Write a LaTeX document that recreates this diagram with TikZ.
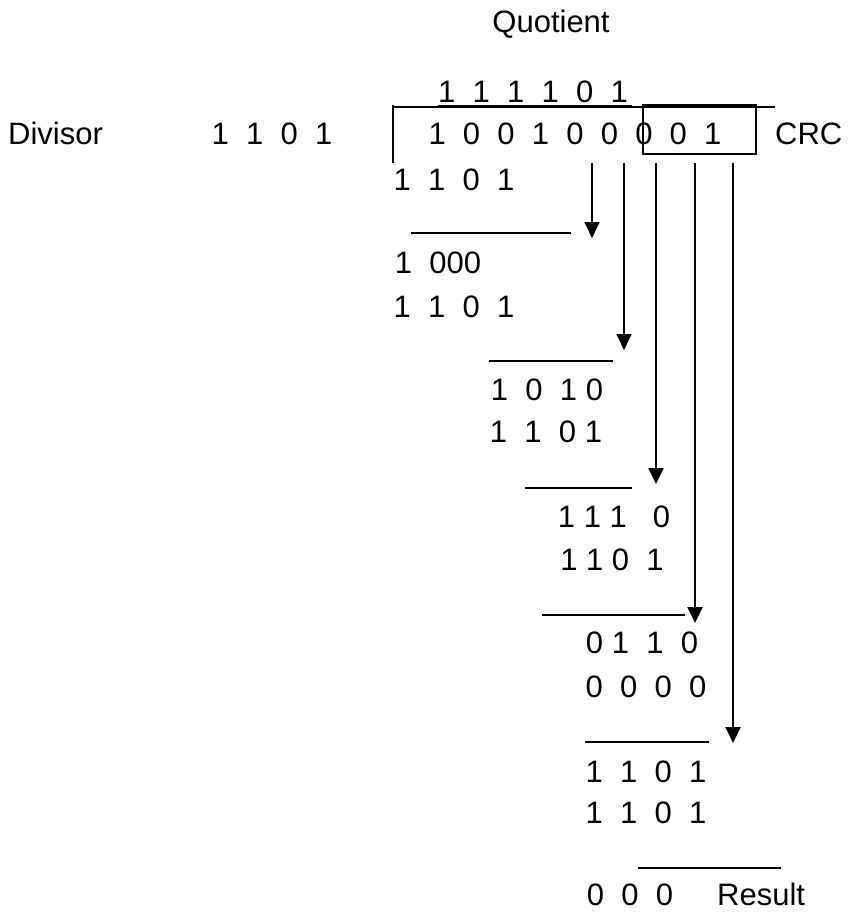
\documentclass[tikz,border=0pt]{standalone}
\usepackage{fontspec}
\setmainfont{Liberation Sans}
\usepackage{tikz}
\usetikzlibrary{arrows.meta,positioning}

\begin{document}
\begin{tikzpicture}[x=1pt,y=-1pt,
bits/.style={anchor=base,inner sep=0pt,font=\fontsize{31}{37}\selectfont},
word/.style={bits,anchor=base west},
rule/.style={line width=1.2pt},
arr/.style={-{Triangle[length=16pt,width=15pt]},line width=2pt}
]
\useasboundingbox (0,0) rectangle (848,912);

% header and divisor
\node[bits] (quot) at (551,33) {Quotient};
\node[word] (divlbl) at (8,145) {Divisor};
\node[bits] (divbits) at (272,145) {1~~1~~0~~1};
\node[bits] (qbits) at (533,103) {1~~1~~1~~1~~0~~1};
\node[bits] (dividend) at (575,145) {1~~0~~0~~1~~0~~0~~0~~0~~1};
\node[draw,line width=1.3pt,minimum width=113,minimum height=49,inner sep=0pt] (crcbox) at (699.5,129.5) {};
\node[word] (crc) at (775,145) {CRC};

% division bracket
\draw[line width=2pt] (393,163)--(393,105);
\draw[rule] (393,107)--(775,107);
\draw[line width=3pt] (438,107)--(632,107);

% steps of the division
\node[bits] (sub1) at (454,190) {1~~1~~0~~1};
\node[bits] (rem1) at (438,273) {1~~000};
\node[bits] (sub2) at (454,317) {1~~1~~0~~1};
\node[bits] (rem2) at (547,400) {1~~0~~1~0};
\node[bits] (sub3) at (546,442) {1~~1~~0~1};
\node[bits] (rem3) at (614,527) {1~1~1~~~0};
\node[bits] (sub4) at (612,570) {1~1~0~~1};
\node[bits] (rem4) at (642,653) {0~1~~1~~0};
\node[bits] (sub5) at (646,697) {0~~0~~0~~0};
\node[bits] (rem5) at (646,782) {1~~1~~0~~1};
\node[bits] (sub6) at (646,823) {1~~1~~0~~1};
\node[bits] (rem6) at (630,905) {0~~0~~0};
\node[word] (result) at (717,905) {Result};

\foreach \a/\b/\y in {411/571/233,489/613/361,525/632/488,542/685/615,585/709/742,638/781/868}
  \draw[rule] (\a,\y)--(\b,\y);

% bits brought down
\foreach \n/\x/\t in {1/592/238,2/624/350,3/656/484,4/695/623,5/733/743}{
  \coordinate (s\n) at (\x,163); \coordinate (t\n) at (\x,\t);
  \draw[arr] (s\n)--(t\n);}
\end{tikzpicture}
\end{document}
